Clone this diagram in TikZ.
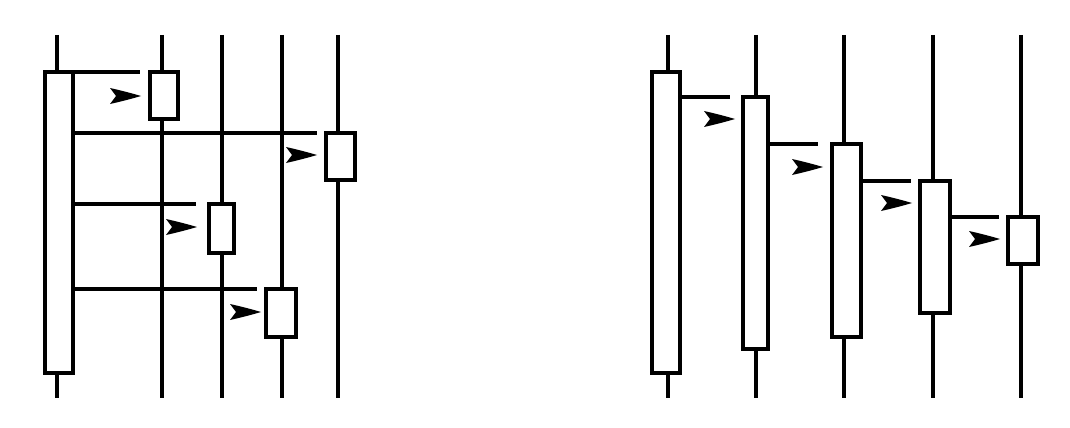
\documentclass[tikz,border=0pt]{standalone}
\begin{document}
\begin{tikzpicture}[x=1pt,y=-1pt,
  life/.style={line width=4pt},
  actbox/.style={draw,fill=white,line width=4pt},
  msg/.style={line width=4pt},
  ahead/.pic={\fill (0,0) .. controls (-10,-3) and (-22,-6) .. (-31,-8) -- (-25,0) -- (-31,8) .. controls (-22,6) and (-10,3) .. (0,0) -- cycle;}]
\useasboundingbox (0,0) rectangle (1070,428);
% ---- left diagram ----
\foreach \x in {57,162,222,282,338} \draw[life] (\x,35) -- (\x,398);
\draw[actbox] (45,72) rectangle (73,373);
\draw[actbox] (150,72) rectangle (178,119);
\draw[actbox] (326,133) rectangle (355,180);
\draw[actbox] (209,204) rectangle (234,253);
\draw[actbox] (266,289) rectangle (296,337);
\draw[msg] (73,72) -- (140,72);
\draw[msg] (73,133) -- (317,133);
\draw[msg] (73,204) -- (196,204);
\draw[msg] (73,289) -- (257,289);
\pic at (141,96) {ahead};
\pic at (317,155) {ahead};
\pic at (197,227) {ahead};
\pic at (261,312) {ahead};
% ---- right diagram ----
\foreach \x in {668,756,844,933,1021} \draw[life] (\x,35) -- (\x,398);
\draw[actbox] (652,72) rectangle (680,373);
\draw[actbox] (743,97) rectangle (768,349);
\draw[actbox] (832,144) rectangle (861,337);
\draw[actbox] (920,181) rectangle (950,313);
\draw[actbox] (1008,217) rectangle (1038,264);
\draw[msg] (680,97) -- (730,97);
\draw[msg] (768,144) -- (818,144);
\draw[msg] (861,181) -- (911,181);
\draw[msg] (950,217) -- (999,217);
\pic at (735,119) {ahead};
\pic at (823,167) {ahead};
\pic at (912,203) {ahead};
\pic at (1000,239) {ahead};
\end{tikzpicture}
\end{document}
